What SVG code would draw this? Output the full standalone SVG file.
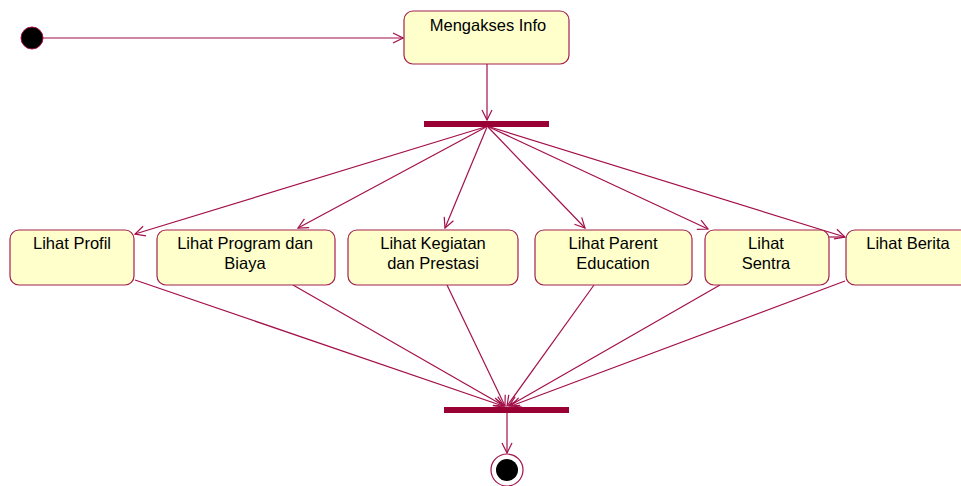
<svg xmlns="http://www.w3.org/2000/svg" width="961" height="486" viewBox="0 0 961 486">
  <defs>
    <style>
      .act { fill: #ffffcc; stroke: #a3204f; stroke-width: 1.2; }
      .lbl { font-family: "Liberation Sans", Arial, sans-serif; font-size: 16.5px; fill: #000; text-anchor: middle; }
      .flow { stroke: #a3104a; stroke-width: 1.2; fill: none; marker-end: url(#open); }
      .plain { stroke: #a3104a; stroke-width: 1.2; fill: none; }
      .bar { fill: #990033; }
    </style>
    <marker id="open" markerUnits="userSpaceOnUse" viewBox="0 0 12 12" refX="11" refY="6" markerWidth="12" markerHeight="12" orient="auto">
      <path d="M1,1 L11,6 L1,11" fill="none" stroke="#a3104a" stroke-width="1.2"/>
    </marker>
  </defs>
  <rect width="961" height="486" fill="#ffffff"/>

  <!-- control flow -->
  <g id="connectors">
    <line class="flow" x1="43" y1="38" x2="403" y2="38"/>
    <line class="flow" x1="487" y1="64" x2="487" y2="120"/>
    <!-- fork outputs -->
    <line class="flow" x1="485" y1="127" x2="135" y2="234"/>
    <line class="flow" x1="486" y1="127" x2="298" y2="228"/>
    <line class="flow" x1="487" y1="127" x2="445" y2="228"/>
    <line class="flow" x1="488" y1="127" x2="585" y2="228"/>
    <line class="flow" x1="489" y1="127" x2="708" y2="229"/>
    <line class="flow" x1="490" y1="127" x2="845" y2="237"/>
    <line class="plain" x1="829" y1="237" x2="845" y2="237"/>
    <!-- join inputs -->
    <line class="flow" x1="135" y1="280" x2="503" y2="406"/>
    <line class="flow" x1="293" y1="285" x2="504" y2="406"/>
    <line class="flow" x1="447" y1="285" x2="505" y2="406"/>
    <line class="flow" x1="594" y1="285" x2="507" y2="406"/>
    <line class="flow" x1="720" y1="285" x2="509" y2="406"/>
    <line class="flow" x1="845" y1="281" x2="511" y2="406"/>
    <line class="flow" x1="507" y1="413" x2="507" y2="453"/>
  </g>

  <g id="start">
    <circle cx="32" cy="38" r="11" fill="#000" stroke="#a3104a" stroke-width="1"/>
  </g>

  <g id="mengakses-info">
    <rect class="act" x="404" y="11" width="165" height="53" rx="9"/>
    <text class="lbl" x="488" y="31">Mengakses Info</text>
  </g>

  <g id="fork">
    <rect class="bar" x="424" y="121" width="125" height="6"/>
  </g>

  <g id="lihat-profil">
    <rect class="act" x="10" y="230" width="124" height="55" rx="9"/>
    <text class="lbl" x="72" y="249">Lihat Profil</text>
  </g>

  <g id="lihat-program">
    <rect class="act" x="157" y="230" width="178" height="55" rx="9"/>
    <text class="lbl" x="245" y="249">Lihat Program dan</text>
    <text class="lbl" x="245" y="269">Biaya</text>
  </g>

  <g id="lihat-kegiatan">
    <rect class="act" x="348" y="230" width="170" height="55" rx="9"/>
    <text class="lbl" x="433" y="249">Lihat Kegiatan</text>
    <text class="lbl" x="433" y="269">dan Prestasi</text>
  </g>

  <g id="lihat-parent">
    <rect class="act" x="535" y="230" width="157" height="55" rx="9"/>
    <text class="lbl" x="613" y="249">Lihat Parent</text>
    <text class="lbl" x="613" y="269">Education</text>
  </g>

  <g id="lihat-sentra">
    <rect class="act" x="705" y="230" width="124" height="55" rx="9"/>
    <text class="lbl" x="766" y="249">Lihat</text>
    <text class="lbl" x="766" y="269">Sentra</text>
  </g>

  <g id="lihat-berita">
    <rect class="act" x="846" y="230" width="130" height="55" rx="9"/>
    <text class="lbl" x="908" y="249">Lihat Berita</text>
  </g>

  <g id="join">
    <rect class="bar" x="444" y="407" width="125" height="6"/>
  </g>

  <g id="end">
    <circle cx="507" cy="470" r="16" fill="#fff" stroke="#a3104a" stroke-width="1.2"/>
    <circle cx="507" cy="470" r="11" fill="#000"/>
  </g>
</svg>
